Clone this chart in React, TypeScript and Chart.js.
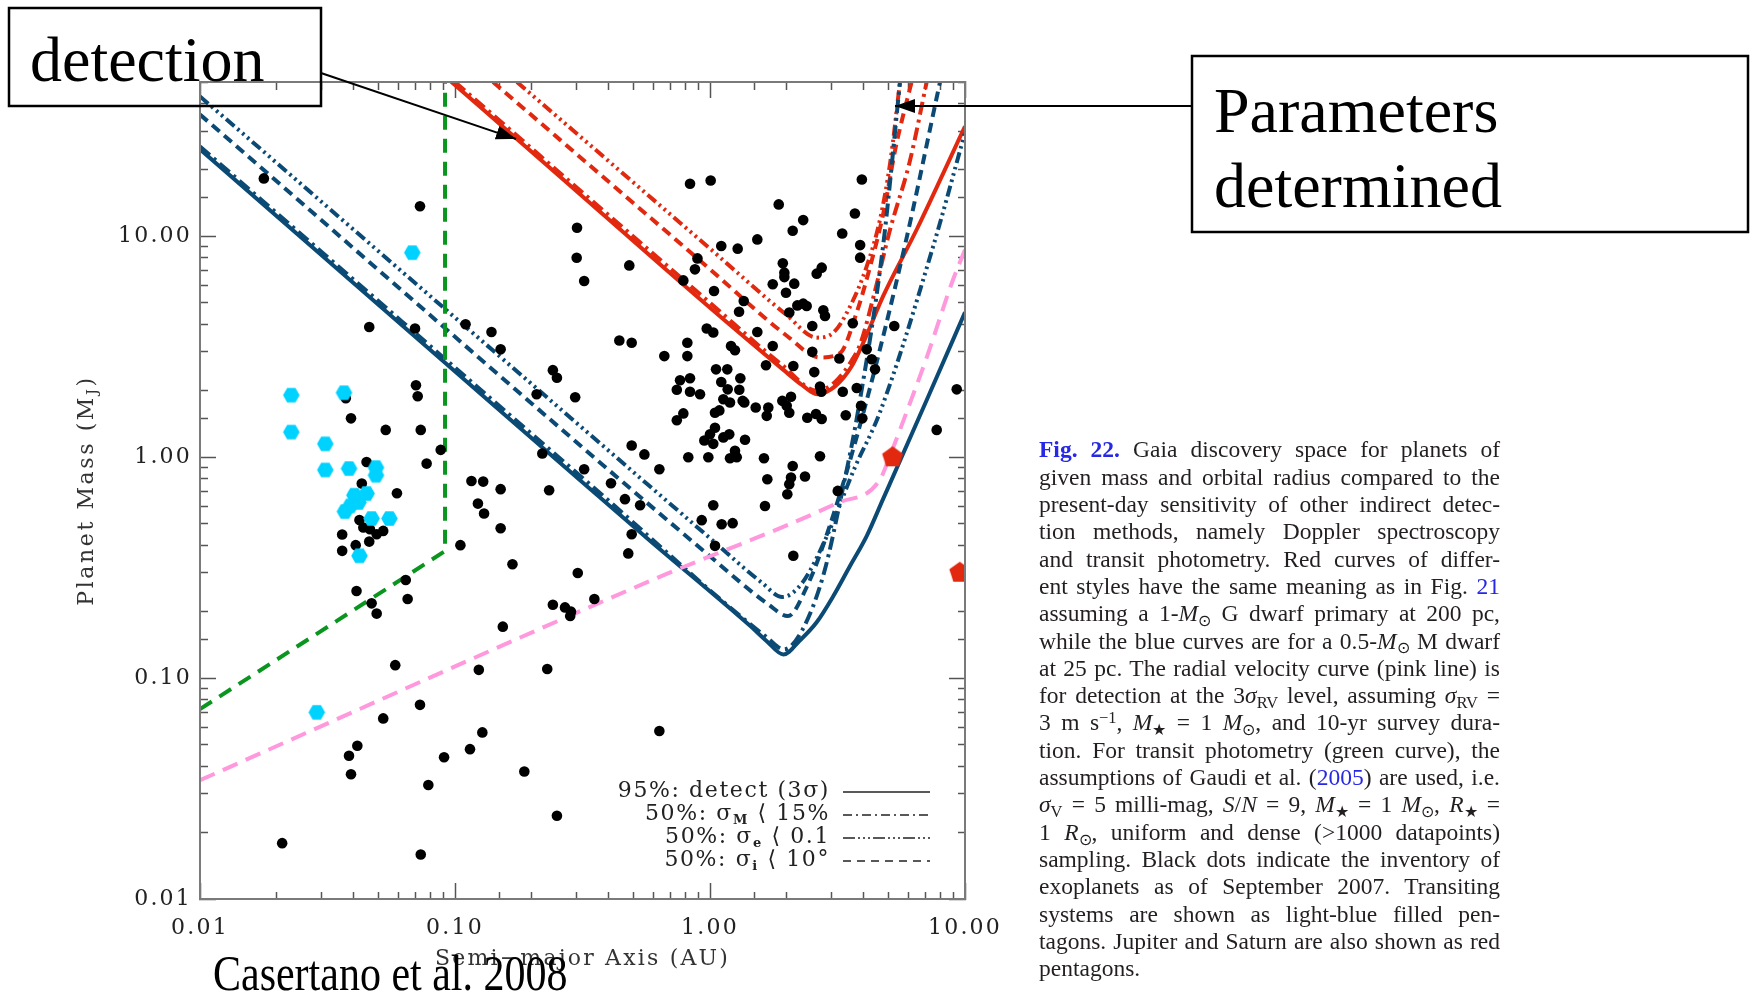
import React, { useEffect, useRef } from 'react';
import { Chart, registerables } from 'chart.js';

Chart.register(...registerables);

// ---------------- axis ranges and tick labels ----------------
const xRange = [0.01, 10];
const yRange = [0.01, 50];
const xTickValues = [0.01, 0.1, 1, 10];
const xTickLabels = ['0.01', '0.10', '1.00', '10.00'];
const yTickValues = [0.01, 0.1, 1, 10];
const yTickLabels = ['0.01', '0.10', '1.00', '10.00'];
const xTitle = 'Semi\u2212major Axis (AU)';
const yTitle = ['Planet Mass (M', 'J', ')'];

// ---------------- exoplanet inventory (Sept 2007) ----------------
const planetA = [
  0.300, 0.321, 0.0461, 0.0697, 0.110, 0.139, 0.151, 0.242, 0.251, 0.209, 0.296, 0.0703, 0.0714, 0.0373, 0.0391,
  0.0535, 0.0734, 0.0879, 0.220, 0.321, 0.0450, 0.0774, 0.116, 0.129, 0.151, 0.234, 0.0431, 0.0592, 0.123, 0.130,
  0.151, 0.0422, 0.0437, 0.0464, 0.0523, 0.0493, 0.0461, 0.0361, 0.0361, 0.0408, 0.105, 0.168, 0.303, 0.0641, 0.0411,
  0.0652, 0.0471, 0.0493, 0.242, 0.270, 0.285, 0.283, 0.154, 0.0583, 0.124, 0.230, 0.0729, 0.0523, 0.128, 0.0414,
  0.1145, 0.352, 0.0384, 0.0391, 0.0906, 0.0786, 0.187, 0.251, 0.633, 0.021, 0.0734, 0.0178, 0.0729, 0.835, 1.006,
  3.94, 1.86, 3.70, 2.32, 0.301, 2.11, 3.30, 1.533, 1.107, 1.284, 3.88, 3.88, 0.4825, 0.893, 0.873,
  1.93, 1.957, 1.957, 2.742, 2.62, 1.762, 2.14, 0.786, 1.037, 1.986, 1.356, 1.30, 2.20, 2.32, 2.394,
  2.782, 2.825, 2.046, 3.63, 2.518, 5.28, 0.971, 1.03, 1.533, 0.441, 0.493, 0.815, 1.209, 1.253, 1.762,
  2.518, 4.117, 4.307, 4.438, 0.662, 0.815, 1.658, 2.122, 3.216, 2.564, 1.056, 1.169, 0.763, 0.835, 1.315,
  1.107, 1.173, 1.303, 0.741, 0.835, 0.914, 2.732, 3.316, 3.763, 1.128, 1.198, 1.343, 1.363, 1.921, 2.078,
  1.511, 1.693, 1.999, 2.046, 1.088, 1.046, 0.786, 0.741, 1.669, 2.407, 2.604, 2.742, 3.407, 3.911, 3.957,
  1.046, 1.0, 0.95, 1.03, 1.128, 1.19, 1.372, 0.493, 0.553, 0.822, 0.985, 1.198, 1.253, 1.273, 1.628,
  2.70, 9.28, 7.745, 0.409, 0.633, 2.11, 2.078, 2.046, 2.01, 1.678, 2.358, 0.464, 0.532, 1.03, 1.643,
  3.17, 0.928, 1.111, 1.227, 0.493, 1.046, 0.478, 2.122, 2.70,
];
const planetM = [
  8.0, 6.28, 3.89, 3.83, 4.00, 3.69, 3.08, 2.48, 2.29, 1.93, 1.87, 2.12, 1.89, 1.85, 1.50,
  1.33, 1.33, 1.08, 1.04, 0.882, 0.952, 0.936, 0.781, 0.776, 0.717, 0.709, 0.760, 0.687, 0.617, 0.556,
  0.477, 0.520, 0.481, 0.472, 0.464, 0.448, 0.415, 0.447, 0.377, 0.400, 0.400, 0.328, 0.299, 0.278, 0.248,
  0.228, 0.218, 0.196, 0.215, 0.209, 0.200, 0.191, 0.171, 0.1145, 0.109, 0.110, 0.0757, 0.0657, 0.0568, 0.0494,
  0.0477, 0.228, 0.0445, 0.0367, 0.0438, 0.0328, 0.0378, 0.0238, 0.0576, 0.0179, 0.0159, 18.3, 13.7, 17.3, 17.9,
  18.1, 13.96, 12.7, 11.85, 10.95, 10.6, 10.3, 9.69, 9.04, 8.80, 9.13, 8.01, 7.39, 7.95, 7.09,
  7.55, 6.85, 6.54, 7.22, 6.78, 6.07, 6.11, 6.32, 5.66, 5.56, 5.10, 4.56, 4.87, 4.96, 4.84,
  4.63, 4.36, 4.52, 4.04, 3.93, 3.93, 3.83, 3.67, 3.69, 3.38, 3.30, 3.30, 3.19, 3.05, 3.19,
  3.00, 3.08, 2.78, 2.50, 2.87, 2.87, 2.61, 2.59, 2.80, 2.43, 2.50, 2.50, 2.23, 2.28, 2.28,
  2.19, 2.03, 2.02, 2.02, 1.98, 1.93, 1.98, 1.98, 2.06, 1.83, 1.77, 1.80, 1.77, 1.80, 1.88,
  1.68, 1.68, 1.71, 1.59, 1.63, 1.59, 1.58, 1.47, 1.54, 1.51, 1.57, 1.49, 1.55, 1.71, 1.50,
  1.36, 1.27, 1.19, 1.15, 1.23, 1.27, 1.20, 1.13, 1.03, 1.00, 1.00, 0.99, 1.07, 1.00, 0.99,
  1.01, 2.03, 1.33, 0.763, 0.882, 0.913, 0.809, 0.755, 0.680, 0.795, 0.818, 0.646, 0.606, 0.606, 0.602,
  0.704, 0.519, 0.497, 0.503, 0.448, 0.397, 0.367, 0.358, 2.09,
];
// transiting systems (light-blue)
const transitA = [0.068, 0.0228, 0.0367, 0.0228, 0.0310, 0.0310, 0.0384, 0.049, 0.049, 0.045, 0.0403, 0.0418, 0.0388, 0.0370, 0.0471, 0.0553, 0.0422, 0.0287];
const transitM = [8.44, 1.91, 1.96, 1.30, 1.15, 0.876, 0.889, 0.898, 0.829, 0.685, 0.673, 0.624, 0.602, 0.568, 0.528, 0.528, 0.358, 0.0700];
// Jupiter, Saturn
const solarA = [5.2, 9.54];
const solarM = [1.0, 0.30];

// ---------------- Gaia curves: M dwarf at 25 pc (blue) ----------------
const blueDetA = [0.01, 0.0914, 0.338, 0.58, 1.44, 1.67, 1.94, 2.25, 2.62, 3.05, 3.54, 4.12, 4.77, 7.1, 10];
const blueDetM = [24.8, 2.68, 0.72, 0.42, 0.172, 0.147, 0.128, 0.148, 0.179, 0.236, 0.322, 0.441, 0.646, 1.83, 4.53];
const blueSigMA = [0.01, 0.34, 1.67, 1.95, 2.3, 2.8, 3.3, 3.8, 4.77, 5.56];
const blueSigMM = [25.5, 0.75, 0.153, 0.135, 0.165, 0.3, 0.7, 1.6, 9, 50];
const blueSigEA = [0.01, 1.0, 1.6, 1.92, 2.3, 2.9, 3.7, 4.64, 7.5, 10];
const blueSigEM = [43, 0.43, 0.27, 0.233, 0.27, 0.45, 0.9, 1.6, 9, 29.5];
const blueSigIA = [0.01, 1.0, 1.7, 2.02, 2.4, 2.95, 4.0, 5.8, 7.98];
const blueSigIM = [35.6, 0.356, 0.215, 0.191, 0.26, 0.49, 1.6, 9, 50];

// ---------------- Gaia curves: G dwarf at 200 pc (red) ----------------
const redDetA = [0.0964, 0.236, 1.0, 1.93, 2.3, 2.63, 3.1, 3.6, 3.99, 4.77, 6.48, 10];
const redDetM = [50.3, 20.4, 4.75, 2.5, 2.12, 1.93, 2.1, 2.59, 3.3, 5.35, 10.8, 31.5];
const redSigMA = [0.1, 1.0, 1.93, 2.63, 3.1, 3.6, 3.9, 4.38, 5.09, 6.06, 7.1];
const redSigMM = [50, 5.0, 2.6, 2.0, 2.2, 2.75, 3.3, 5.35, 10.8, 21.6, 51];
const redSigEA = [0.175, 1.0, 2.0, 2.62, 3.05, 3.55, 4.12, 4.64, 5.09, 5.56];
const redSigEM = [50, 8.8, 4.4, 3.48, 3.67, 4.84, 7.33, 11.9, 21.6, 50];
const redSigIA = [0.141, 1.0, 2.0, 2.7, 3.24, 3.76, 4.25, 4.79, 5.36, 6.2];
const redSigIM = [50, 7.1, 3.55, 2.83, 2.97, 4.52, 7.33, 12.8, 25.6, 51];

// ---------------- transit photometry (green) and RV (pink) ----------------
const transitLimA = [0.01, 0.0914, 0.0914];
const transitLimM = [0.0724, 0.376, 50];
const rvLimA = [0.01, 0.58, 3.15, 4.6, 5.2, 5.9, 7.1, 8.9, 10];
const rvLimM = [0.0345, 0.275, 0.62, 0.78, 1.09, 1.6, 2.86, 6.2, 8.7];

// ---------------- legend ----------------
const legendRows: [string, boolean][][] = [
  [['95%: detect (3\u03c3)', false]],
  [['50%: \u03c3', false], ['M', true], [' \u27e8 15%', false]],
  [['50%: \u03c3', false], ['e', true], [' \u27e8 0.1', false]],
  [['50%: \u03c3', false], ['i', true], [' \u27e8 10\u00b0', false]],
];

// ---------------- styles ----------------
const BLUE = '#0b4a75';
const RED = '#e2280f';
const GREEN = '#0a961e';
const PINK = '#ff98dc';
const CYAN = '#00d2ff';
const DASH_DET: number[] = [];
const DASH_M = [13, 5, 3, 5];
const DASH_E = [11, 4, 2.5, 4, 2.5, 4, 2.5, 4];
const DASH_I = [10, 6];
const LEG_DASHES = [[], [9, 4, 2, 4], [12, 3, 2, 3, 2, 3, 2, 3], [8, 6]];
const TICK_FONT = '"DejaVu Serif", serif';
const CAPTION_WIDTH = 461;
const CAP_BLUE = '#2727e6';

const pts = (xs: number[], ys: number[]) => xs.map((x, i) => ({ x, y: ys[i] }));
const isDecade = (v: number) => {
  const lg = Math.log10(v);
  return Math.abs(lg - Math.round(lg)) < 1e-6;
};
const labelFor = (vals: number[], labels: string[]) => (v: any) => {
  const n = Number(v);
  const i = vals.findIndex((t) => Math.abs(Math.log10(t) - Math.log10(n)) < 1e-6);
  return i >= 0 ? labels[i] : '';
};

function polygonCanvas(n: number, r: number, color: string, rot: number) {
  const c = document.createElement('canvas');
  const size = Math.ceil(2 * r + 2);
  c.width = size;
  c.height = size;
  const g = c.getContext('2d')!;
  g.fillStyle = color;
  g.beginPath();
  for (let i = 0; i < n; i++) {
    const a = rot + (i * 2 * Math.PI) / n;
    const px = size / 2 + r * Math.cos(a);
    const py = size / 2 + r * Math.sin(a);
    if (i === 0) g.moveTo(px, py);
    else g.lineTo(px, py);
  }
  g.closePath();
  g.fill();
  return c;
}

const curve = (label: string, xs: number[], ys: number[], color: string, dash: number[], order: number, smooth = true) => ({
  label,
  data: pts(xs, ys),
  showLine: true,
  borderColor: color,
  backgroundColor: color,
  borderWidth: 4,
  borderDash: dash,
  pointRadius: 0,
  pointHoverRadius: 0,
  fill: false,
  tension: 0,
  cubicInterpolationMode: smooth ? 'monotone' : 'default',
  order,
  clip: 0,
});

const gridFor = (pos: string) => ({
  display: true,
  drawOnChartArea: false,
  drawTicks: true,
  tickLength: -16,
  tickWidth: 1.5,
  tickColor: '#555',
  tickBorderDash: (ctx: any) => {
    const v = ctx.tick ? ctx.tick.value : 1;
    if (isDecade(v)) return [];
    return pos === 'left' || pos === 'top' ? [0, 8, 8, 100] : [8, 100];
  },
});
const border = { display: true, color: '#7a7a7a', width: 2, z: 1 };

const annotPlugin = {
  id: 'annot',
  beforeDraw(chart: any) {
    (chart.ctx as any).letterSpacing = '2.2px';
  },
  afterDraw(chart: any) {
    const { ctx, chartArea } = chart;
    const big = `22px ${TICK_FONT}`;
    const small = `15px ${TICK_FONT}`;
    // y-axis title with subscript
    ctx.save();
    (ctx as any).letterSpacing = '2.6px';
    ctx.fillStyle = '#333';
    ctx.textBaseline = 'middle';
    ctx.textAlign = 'left';
    ctx.translate(87, (chartArea.top + chartArea.bottom) / 2);
    ctx.rotate(-Math.PI / 2);
    ctx.font = big;
    const w1 = ctx.measureText(yTitle[0]).width;
    ctx.font = small;
    const w2 = ctx.measureText(yTitle[1]).width;
    ctx.font = big;
    const w3 = ctx.measureText(yTitle[2]).width;
    let x = -(w1 + w2 + w3) / 2;
    ctx.font = big;
    ctx.fillText(yTitle[0], x, 0);
    x += w1;
    ctx.font = small;
    ctx.fillText(yTitle[1], x, 6);
    x += w2;
    ctx.font = big;
    ctx.fillText(yTitle[2], x, 0);
    ctx.restore();

    // legend
    ctx.save();
    (ctx as any).letterSpacing = '1.6px';
    ctx.fillStyle = '#222';
    ctx.strokeStyle = '#222';
    ctx.textBaseline = 'middle';
    ctx.textAlign = 'left';
    const lfont = `22px ${TICK_FONT}`;
    const sfont = `bold 13px ${TICK_FONT}`;
    const offs = [108, 85, 62, 39];
    legendRows.forEach((row, r) => {
      const y = chartArea.bottom - offs[r];
      const widths = row.map(([t, sub]) => {
        ctx.font = sub ? sfont : lfont;
        return ctx.measureText(t).width;
      });
      let lx = chartArea.right - 135 - widths.reduce((a, b) => a + b, 0);
      row.forEach(([t, sub], i) => {
        ctx.font = sub ? sfont : lfont;
        ctx.fillText(t, lx, sub ? y + 7 : y);
        lx += widths[i];
      });
      ctx.setLineDash(LEG_DASHES[r]);
      ctx.lineWidth = 1.6;
      ctx.beginPath();
      ctx.moveTo(chartArea.right - 122, y + 1);
      ctx.lineTo(chartArea.right - 35, y + 1);
      ctx.stroke();
    });
    ctx.restore();
    (ctx as any).letterSpacing = '0px';
  },
};

const Sub = ({ children }: any) => (
  <span style={{ fontSize: '0.7em', position: 'relative', top: '0.3em', lineHeight: 0 }}>{children}</span>
);
const Sup = ({ children }: any) => (
  <span style={{ fontSize: '0.7em', position: 'relative', top: '-0.45em', lineHeight: 0 }}>{children}</span>
);
const Bl = ({ children }: any) => <span style={{ color: CAP_BLUE }}>{children}</span>;

const captionLines = [
  <><b style={{ color: CAP_BLUE }}>Fig. 22.</b> Gaia discovery space for planets of</>,
  <>given mass and orbital radius compared to the</>,
  <>present-day sensitivity of other indirect detec-</>,
  <>tion methods, namely Doppler spectroscopy</>,
  <>and transit photometry. Red curves of differ-</>,
  <>ent styles have the same meaning as in Fig. <Bl>21</Bl></>,
  <>assuming a 1-<i>M</i><Sub>⊙</Sub> G dwarf primary at 200 pc,</>,
  <>while the blue curves are for a 0.5-<i>M</i><Sub>⊙</Sub> M dwarf</>,
  <>at 25 pc. The radial velocity curve (pink line) is</>,
  <>for detection at the 3<i>σ</i><Sub>RV</Sub> level, assuming <i>σ</i><Sub>RV</Sub> =</>,
  <>3 m s<Sup>−1</Sup>, <i>M</i><Sub>★</Sub> = 1 <i>M</i><Sub>⊙</Sub>, and 10-yr survey dura-</>,
  <>tion. For transit photometry (green curve), the</>,
  <>assumptions of Gaudi et al. (<Bl>2005</Bl>) are used, i.e.</>,
  <><i>σ</i><Sub>V</Sub> = 5 milli-mag, <i>S</i>/<i>N</i> = 9, <i>M</i><Sub>★</Sub> = 1 <i>M</i><Sub>⊙</Sub>, <i>R</i><Sub>★</Sub> =</>,
  <>1 <i>R</i><Sub>⊙</Sub>, uniform and dense (&gt;1000 datapoints)</>,
  <>sampling. Black dots indicate the inventory of</>,
  <>exoplanets as of September 2007. Transiting</>,
  <>systems are shown as light-blue filled pen-</>,
  <>tagons. Jupiter and Saturn are also shown as red</>,
  <>pentagons.</>,
];

export default function App() {
  const canvasRef = useRef<HTMLCanvasElement>(null);
  const capRefs = useRef<(HTMLDivElement | null)[]>([]);

  useEffect(() => {
    const hex = polygonCanvas(6, 8.3, CYAN, 0);
    const pent = polygonCanvas(5, 11, RED, -Math.PI / 2);
    const chart = new Chart(canvasRef.current as any, {
      type: 'scatter',
      data: {
        datasets: [
          { label: 'Jupiter & Saturn', data: pts(solarA, solarM), pointStyle: pent, pointRadius: 11, backgroundColor: RED, order: 0, clip: 0 } as any,
          { label: 'Transiting', data: pts(transitA, transitM), pointStyle: hex, pointRadius: 8, backgroundColor: CYAN, order: 1 } as any,
          { label: 'Exoplanets', data: pts(planetA, planetM), pointStyle: 'circle', pointRadius: 5.3, backgroundColor: '#000', borderWidth: 0, order: 2 } as any,
          curve('RV 3σ', rvLimA, rvLimM, PINK, [16, 9], 3),
          curve('Transit', transitLimA, transitLimM, GREEN, [14, 9], 3, false),
          curve('Blue detect', blueDetA, blueDetM, BLUE, DASH_DET, 6),
          curve('Blue σM', blueSigMA, blueSigMM, BLUE, DASH_M, 5),
          curve('Blue σe', blueSigEA, blueSigEM, BLUE, DASH_E, 5),
          curve('Blue σi', blueSigIA, blueSigIM, BLUE, DASH_I, 5),
          curve('Red detect', redDetA, redDetM, RED, DASH_DET, 6),
          curve('Red σM', redSigMA, redSigMM, RED, DASH_M, 5),
          curve('Red σe', redSigEA, redSigEM, RED, DASH_E, 5),
          curve('Red σi', redSigIA, redSigIM, RED, DASH_I, 5),
        ] as any,
      },
      options: {
        responsive: false,
        animation: false,
        devicePixelRatio: 1,
        events: [],
        layout: { padding: { left: 0, top: 82, right: 790, bottom: 0 } },
        plugins: { legend: { display: false }, tooltip: { enabled: false }, title: { display: false } },
        scales: {
          x: {
            type: 'logarithmic',
            axis: 'x',
            position: 'bottom',
            min: xRange[0],
            max: xRange[1],
            afterFit: (s: any) => { s.height = 98; },
            ticks: { callback: labelFor(xTickValues, xTickLabels), autoSkip: false, maxRotation: 0, minRotation: 0, padding: 32, color: '#222', font: { family: TICK_FONT, size: 22 } },
            grid: gridFor('bottom'),
            border,
            title: { display: true, text: xTitle, color: '#333', font: { family: TICK_FONT, size: 22 }, padding: { top: 0, bottom: 25 } },
          },
          xTop: {
            type: 'logarithmic',
            axis: 'x',
            position: 'top',
            min: xRange[0],
            max: xRange[1],
            afterFit: (s: any) => { s.height = 0; },
            ticks: { display: false },
            grid: gridFor('top'),
            border,
          },
          y: {
            type: 'logarithmic',
            axis: 'y',
            position: 'left',
            min: yRange[0],
            max: yRange[1],
            afterFit: (s: any) => { s.width = 200; },
            ticks: { callback: labelFor(yTickValues, yTickLabels), autoSkip: false, padding: 24, color: '#222', font: { family: TICK_FONT, size: 22 } },
            grid: gridFor('left'),
            border,
          },
          yRight: {
            type: 'logarithmic',
            axis: 'y',
            position: 'right',
            min: yRange[0],
            max: yRange[1],
            afterFit: (s: any) => { s.width = 0; },
            ticks: { display: false },
            grid: gridFor('right'),
            border,
          },
        } as any,
      },
      plugins: [annotPlugin as any],
    });
    return () => chart.destroy();
  }, []);

  useEffect(() => {
    const justify = () => {
      capRefs.current.forEach((el, k) => {
        if (!el || k === captionLines.length - 1) return;
        el.style.wordSpacing = '0px';
        const w = el.getBoundingClientRect().width;
        const n = ((el.textContent || '').match(/ /g) || []).length;
        if (n > 0) el.style.wordSpacing = `${(CAPTION_WIDTH - w) / n}px`;
      });
    };
    justify();
    const fonts = (document as any).fonts;
    if (fonts && fonts.ready) fonts.ready.then(justify);
  }, []);

  return (
    <div style={{ position: 'absolute', left: 0, top: 0, width: 1755, height: 997, background: '#fff', overflow: 'hidden' }}>
      <canvas ref={canvasRef} width={1755} height={997} style={{ position: 'absolute', left: 0, top: 0, width: 1755, height: 997 }} />
      {captionLines.map((line, k) => (
        <div
          key={k}
          ref={(el) => { capRefs.current[k] = el; }}
          style={{
            position: 'absolute',
            left: 1039,
            top: 436.4 + 27.3 * k,
            whiteSpace: 'nowrap',
            fontFamily: '"Liberation Serif", "Times New Roman", serif',
            fontSize: 23.5,
            lineHeight: '27.3px',
            color: '#231f20',
          }}
        >
          {line}
        </div>
      ))}
      <svg width={1755} height={997} style={{ position: 'absolute', left: 0, top: 0, pointerEvents: 'none' }}>
        <defs>
          <marker id="ah" markerUnits="userSpaceOnUse" markerWidth="22" markerHeight="16" refX="20" refY="7" orient="auto">
            <path d="M0,0 L20,7 L0,14 z" fill="#000" />
          </marker>
        </defs>
        <rect x={9} y={8} width={312} height={98} fill="none" stroke="#000" strokeWidth={2.5} />
        <text x={30} y={81} fontFamily='"Liberation Serif", serif' fontSize={64} fill="#000">detection</text>
        <line x1={321} y1={73} x2={516} y2={139} stroke="#000" strokeWidth={2} markerEnd="url(#ah)" />
        <rect x={1192} y={56} width={556} height={176} fill="none" stroke="#000" strokeWidth={2.5} />
        <text x={1214} y={132} fontFamily='"Liberation Serif", serif' fontSize={64} fill="#000">Parameters</text>
        <text x={1214} y={207} fontFamily='"Liberation Serif", serif' fontSize={64} fill="#000">determined</text>
        <line x1={1192} y1={106} x2={895} y2={106} stroke="#000" strokeWidth={2} markerEnd="url(#ah)" />
        <text transform="translate(213,990) scale(1,1.2)" fontFamily='"Liberation Serif", serif' fontSize={42} fill="#000">Casertano et al. 2008</text>
      </svg>
    </div>
  );
}
